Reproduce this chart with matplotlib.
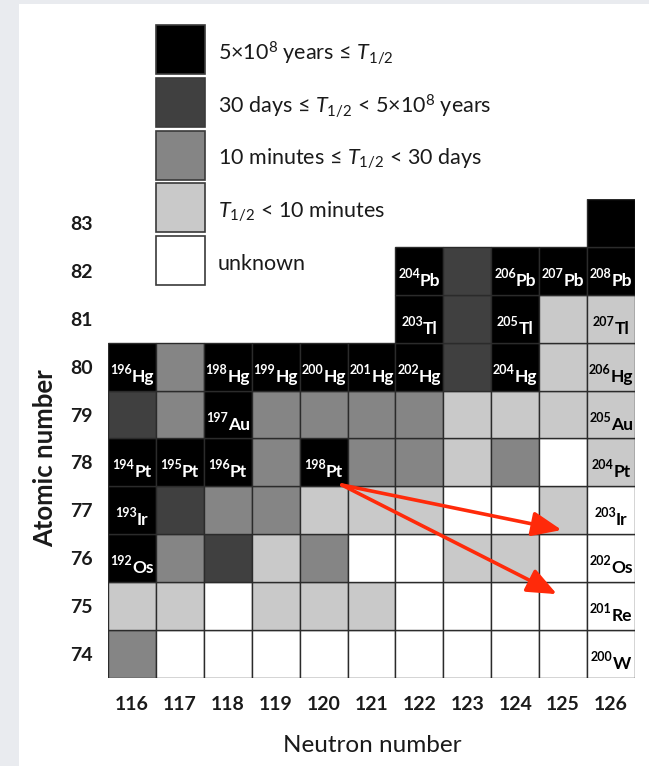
import matplotlib
matplotlib.use("Agg")
import matplotlib.pyplot as plt
from matplotlib.patches import Rectangle
from matplotlib.transforms import offset_copy

plt.rcParams["font.family"] = ["Lato", "DejaVu Sans"]
plt.rcParams["mathtext.fontset"] = "custom"
plt.rcParams["mathtext.rm"] = "Lato"
plt.rcParams["mathtext.it"] = "Lato:italic"
plt.rcParams["mathtext.bf"] = "Lato:bold"

# ---- data -------------------------------------------------------------
neutron_numbers = [116, 117, 118, 119, 120, 121, 122, 123, 124, 125, 126]
atomic_numbers = [74, 75, 76, 77, 78, 79, 80, 81, 82, 83]
element_symbols = ["W", "Re", "Os", "Ir", "Pt", "Au", "Hg", "Tl", "Pb", "Bi"]

# half-life class per nuclide, one list per element (index = neutron number - 116)
# 0: stable (>= 5e8 y), 1: 30 d .. 5e8 y, 2: 10 min .. 30 d, 3: < 10 min, 4: unknown
_ = None
class_W  = [2, 4, 4, 4, 4, 4, 4, 4, 4, 4, 4]
class_Re = [3, 3, 4, 3, 3, 3, 4, 4, 4, 4, 4]
class_Os = [0, 2, 1, 3, 2, 4, 4, 3, 3, 4, 4]
class_Ir = [0, 1, 2, 2, 3, 3, 3, 4, 4, 3, 4]
class_Pt = [0, 0, 0, 2, 0, 2, 2, 3, 2, 4, 3]
class_Au = [1, 2, 0, 2, 2, 2, 2, 3, 3, 3, 3]
class_Hg = [0, 2, 0, 0, 0, 0, 0, 1, 0, 3, 3]
class_Tl = [_, _, _, _, _, _, 0, 1, 0, 3, 3]
class_Pb = [_, _, _, _, _, _, 0, 1, 0, 0, 0]
class_Bi = [_, _, _, _, _, _, _, _, _, _, 0]
half_life_class = [class_W, class_Re, class_Os, class_Ir, class_Pt,
                   class_Au, class_Hg, class_Tl, class_Pb, class_Bi]

# labelled nuclides as (Z, N)
labelled = [(80, 116), (80, 118), (80, 119), (80, 120), (80, 121), (80, 122),
            (80, 124), (80, 126), (81, 122), (81, 124), (81, 126),
            (82, 122), (82, 124), (82, 125), (82, 126),
            (79, 118), (79, 126),
            (78, 116), (78, 117), (78, 118), (78, 120), (78, 126),
            (77, 116), (77, 126), (76, 116), (76, 126),
            (75, 126), (74, 126)]

class_colors = ["#000000", "#404040", "#858585", "#c9c9c9", "#ffffff"]
class_labels = [
    r"5×10$^{8}$ years ≤ $T_{1/2}$",
    r"30 days ≤ $T_{1/2}$ < 5×10$^{8}$ years",
    r"10 minutes ≤ $T_{1/2}$ < 30 days",
    r"$T_{1/2}$ < 10 minutes",
    "unknown",
]

# decay paths from 198Pt (N, Z)
arrow_start = (120.38, 77.53)
arrow_ends = [(124.97, 76.59), (124.87, 75.25)]

# ---- figure -----------------------------------------------------------
W, H = 649, 766
fig = plt.figure(figsize=(W / 100, H / 100), dpi=100)
fig.patch.set_facecolor("#e9ebef")
fig.patches.append(Rectangle((19 / W, 0), (W - 19) / W, (H - 4) / H,
                             transform=fig.transFigure, facecolor="white",
                             edgecolor="none", zorder=-10))

ax = fig.add_axes([108 / W, 88 / H, 527 / W, 479 / H])
ax.set_xlim(115.5, 126.5)
ax.set_ylim(73.5, 83.5)
ax.patch.set_visible(False)
for s in ax.spines.values():
    s.set_visible(False)

for zi, z in enumerate(atomic_numbers):
    for ni, n in enumerate(neutron_numbers):
        c = half_life_class[zi][ni]
        if c is None:
            continue
        ax.add_patch(Rectangle((n - 0.5, z - 0.5), 1, 1,
                               facecolor=class_colors[c],
                               edgecolor="#2b2b2b", lw=1.0))

ax.set_xticks(neutron_numbers)
ax.set_xticklabels([str(n) for n in neutron_numbers],
                   fontsize=14, fontweight="bold", color="#1a1a1a")
ax.set_yticks(atomic_numbers)
ax.set_yticklabels([str(z) for z in atomic_numbers],
                   fontsize=14, fontweight="bold", color="#1a1a1a")
ax.tick_params(axis="x", length=0, pad=13)
ax.tick_params(axis="y", length=0, pad=11)

# nuclide labels: superscript mass number followed by the symbol
renderer = fig.canvas.get_renderer()
for z, n in labelled:
    zi = atomic_numbers.index(z)
    ni = neutron_numbers.index(n)
    c = half_life_class[zi][ni]
    col = "white" if c in (0, 1) else "black"
    mass = str(z + n)
    sym = element_symbols[zi]
    t_sup = ax.text(0, 0, mass, fontsize=9, fontweight="bold")
    t_sym = ax.text(0, 0, sym, fontsize=12.5, fontweight="bold")
    w_sup = t_sup.get_window_extent(renderer).width
    w_sym = t_sym.get_window_extent(renderer).width
    t_sup.remove()
    t_sym.remove()
    x0 = -(w_sup + w_sym) / 2
    base = -15
    ax.text(n, z, mass, fontsize=9, fontweight="bold", color=col,
            ha="left", va="baseline",
            transform=offset_copy(ax.transData, fig=fig, x=x0, y=base + 8,
                                  units="dots"))
    ax.text(n, z, sym, fontsize=12.5, fontweight="bold", color=col,
            ha="left", va="baseline",
            transform=offset_copy(ax.transData, fig=fig, x=x0 + w_sup,
                                  y=base, units="dots"))

for end in arrow_ends:
    ax.annotate("", xy=end, xytext=arrow_start,
                arrowprops=dict(arrowstyle="-|>,head_length=1.8,head_width=0.75",
                                mutation_scale=10, color="#ff2a0a", lw=2.6,
                                shrinkA=0, shrinkB=0))

# legend drawn in pixel coordinates
lax = fig.add_axes([0, 0, 1, 1])
lax.set_xlim(0, W)
lax.set_ylim(H, 0)
lax.axis("off")
for i, (colr, lab) in enumerate(zip(class_colors, class_labels)):
    top = 25 + i * 52.8
    lax.add_patch(Rectangle((156, top), 49, 49, facecolor=colr,
                            edgecolor="#3a3a3a", lw=1.2))
    lax.text(218, top + 28, lab, fontsize=15.5, va="center", ha="left",
             color="#1a1a1a")

fig.text(372 / W, 1 - 745 / H, "Neutron number", fontsize=17.5,
         ha="center", va="center", color="#1a1a1a")
fig.text(45 / W, 1 - 458 / H, "Atomic number", fontsize=18.5,
         fontweight="bold", rotation=90, ha="center", va="center",
         color="#1a1a1a")

fig.savefig("out.png", dpi=100, facecolor=fig.get_facecolor())
